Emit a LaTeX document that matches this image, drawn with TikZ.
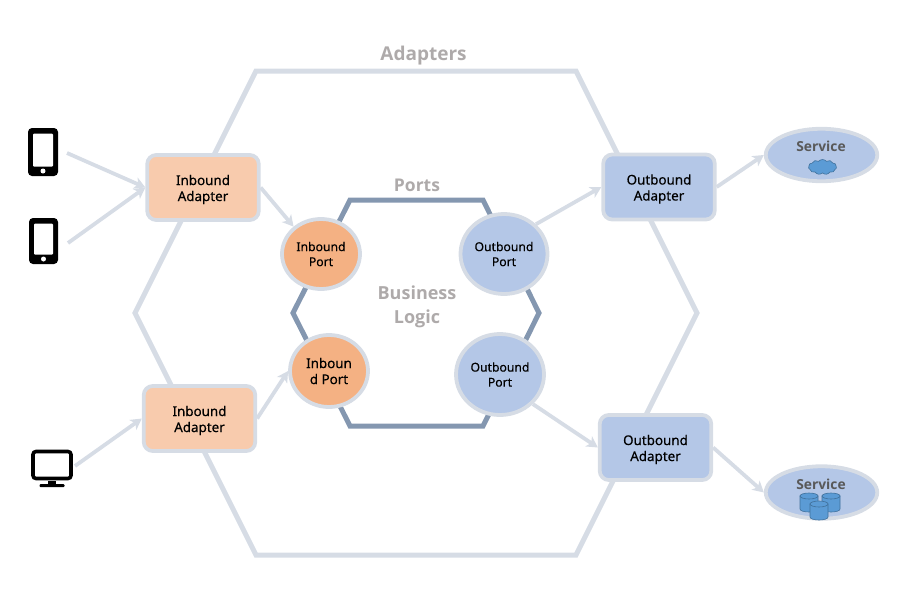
\documentclass[tikz,border=0pt]{standalone}
\usepackage{fontspec}
\setmainfont[FakeBold=0.3]{Noto Sans}
\newfontfamily\titlefont{Open Sans}
\usetikzlibrary{arrows.meta,shapes.geometric,shapes.symbols}
\definecolor{hex.out}{HTML}{D6DCE5}
\definecolor{hex.in}{HTML}{8497B0}
\definecolor{in.fill}{HTML}{F8CBAD}
\definecolor{port.fill}{HTML}{F4B183}
\definecolor{out.fill}{HTML}{B4C7E7}
\definecolor{title.fg}{HTML}{AEAAAA}
\definecolor{db.fill}{HTML}{5B9BD5}
\definecolor{db.line}{HTML}{41719C}

\begin{document}
\begin{tikzpicture}[x=1pt,y=-1pt]
  \tikzset{box/.style={rectangle, draw=hex.out, line width=3.8pt, rounded corners=9pt,
      minimum width=111.5pt, minimum height=65pt, inner sep=0, align=center,
      text height=30pt, text depth=3pt,
      font=\fontsize{13.4}{16}\selectfont},
    port/.style={ellipse, draw=hex.out, line width=3.8pt, inner sep=0, align=center,
      font=\fontsize{12.2}{15}\selectfont},
    serv/.style={ellipse, draw=hex.out, fill=out.fill, line width=3.8pt, inner sep=0,
      minimum width=111.5pt, minimum height=52.5pt},
    link/.style={draw=hex.out, line width=3.8pt,
      -{Stealth[length=11pt,width=12pt,inset=3pt]}},
    title/.style={text=title.fg, font=\fontsize{19}{24}\titlefont\bfseries, align=center},
    titlesm/.style={title, font=\fontsize{18}{24}\titlefont\bfseries},
    servt/.style={text=black!65, font=\fontsize{13.8}{16}\titlefont\bfseries},
    phone/.style={rectangle, fill=black, rounded corners=4pt, inner sep=0},
    screen/.style={rectangle, fill=white, inner sep=0, rounded corners=1pt},
    can/.style={draw=db.line, fill=db.fill, line width=.6pt}}
  \useasboundingbox (0,0) rectangle (902,589);

  \draw[hex.out, line width=5pt] (256,71) -- (576,71) -- (697,313) -- (576,555)
    -- (256,555) -- (135,313) -- cycle;
  \draw[hex.in, line width=5pt] (350,200) -- (483,200) -- (539,313) -- (483,426)
    -- (350,426) -- (293,313) -- cycle;

  \node[title] (adapters) at (423.5,56) {Adapters};
  \node[titlesm, font=\fontsize{17.5}{24}\titlefont\bfseries] (ports) at (417,185) {Ports};
  \node[titlesm] (logic) at (417,307) {Business\\Logic};

  \node[box, fill=in.fill] (inA) at (203,187.5) {Inbound\\Adapter};
  \node[box, fill=in.fill] (inB) at (199.5,418.5) {Inbound\\Adapter};
  \node[box, fill=out.fill] (outA) at (659,187) {Outbound\\Adapter};
  \node[box, fill=out.fill] (outB) at (655.5,447.5) {Outbound\\Adapter};

  \node[port, fill=port.fill, minimum width=78pt, minimum height=70pt] (portA) at (321,254) {Inbound\\Port};
  \node[port, fill=port.fill, minimum width=78pt, minimum height=72pt,
    font=\fontsize{13.4}{16}\selectfont] (portB) at (329,371) {Inboun\\d Port};
  \node[port, fill=out.fill, minimum width=87pt, minimum height=80pt] (portC) at (504,254) {Outbound\\Port};
  \node[port, fill=out.fill, minimum width=88pt, minimum height=81pt] (portD) at (500,374.5) {Outbound\\Port};

  \node[serv] (servA) at (821.5,155) {};
  \node[serv] (servB) at (821.5,492.5) {};
  \node[servt] (labA) at (821,146.5) {Service};
  \node[servt] (labB) at (821,484.5) {Service};
  \node[cloud, cloud puffs=11, cloud puff arc=100, draw=db.line, fill=db.fill, line width=.6pt,
    inner sep=0, minimum width=28pt, minimum height=15pt] (cloudA) at (822.5,167) {};

  % database drums
  \foreach \x/\y in {809/496, 831/496, 819/504} {
    \draw[can] (\x-9,\y) -- (\x-9,\y+13) .. controls (\x-9,\y+17) and (\x+9,\y+17) .. (\x+9,\y+13)
      -- (\x+9,\y) -- cycle;
    \draw[can] (\x,\y) ellipse [x radius=9, y radius=3];
  }

  % devices on the left
  \foreach \n/\x/\y/\w/\h in {phoneA/43/152/30/48, phoneB/43.5/241/29/46} {
    \node[phone, minimum width=\w pt, minimum height=\h pt] (\n) at (\x,\y) {};
    \node[screen, minimum width=\w pt - 10pt, minimum height=\h pt - 15pt] (\n s) at (\x,\y-2) {};
    \node[circle, fill=white, inner sep=0, minimum size=5pt] (\n b) at (\x,\y+\h/2-5) {};
  }
  \node[rectangle, draw=black, fill=white, line width=3.6pt, rounded corners=3pt, inner sep=0,
    minimum width=38pt, minimum height=27pt] (desk) at (52,465) {};
  \node[rectangle, fill=black, inner sep=0, minimum width=8pt, minimum height=4pt] (stand) at (52,482.5) {};
  \node[rectangle, fill=black, rounded corners=1pt, inner sep=0, minimum width=25pt, minimum height=3pt] (base) at (52,485.5) {};

  \coordinate (tailA) at (67,153);
  \coordinate (tailB) at (68,243);
  \coordinate (tailD) at (75,466);

  \draw[link] (tailA) -- (inA.west);
  \draw[link] (tailB) -- (inA.west);
  \draw[link] (tailD) -- (inB.west);
  \draw[link] (inA.east) -- (portA.135);
  \draw[link] (inB.east) -- (portB.west);
  \draw[link] (portC.43) -- (outA.west);
  \draw[link] (portD.-42) -- (outB.west);
  \draw[link] (outA.east) -- (servA.west);
  \draw[link] (outB.east) -- (servB.west);
\end{tikzpicture}
\end{document}
